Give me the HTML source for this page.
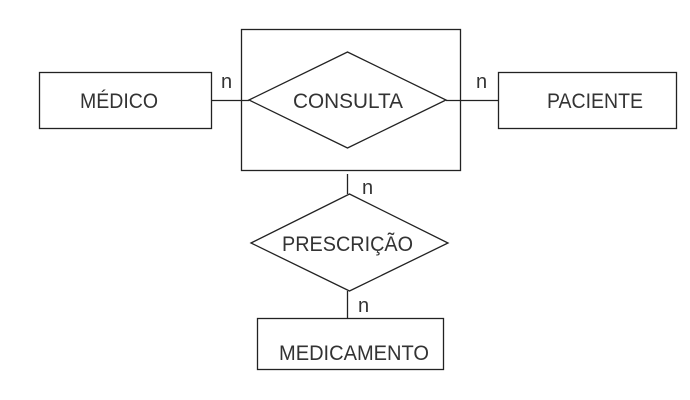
<!DOCTYPE html>
<html><head><meta charset="utf-8"><style>
html,body{margin:0;padding:0;background:#fff;width:690px;height:400px;overflow:hidden}
text{font-family:"Liberation Sans",sans-serif;font-size:21px;fill:#333;stroke:none}
</style></head><body>
<svg width="690" height="400" viewBox="0 0 690 400" xmlns="http://www.w3.org/2000/svg">
<g fill="none" stroke="#222" stroke-width="1.3">
<rect x="39.5" y="72.5" width="172" height="56"/>
<rect x="498.5" y="72.5" width="178" height="56"/>
<rect x="241.5" y="29.5" width="219" height="141"/>
<polygon points="249,100 347.5,52 446,100 347.5,148"/>
<line x1="211" y1="100.5" x2="249" y2="100.5"/>
<line x1="446" y1="100.5" x2="498" y2="100.5"/>
<line x1="347.5" y1="174" x2="347.5" y2="194"/>
<polygon points="251,243 349.5,194 448,243 349.5,291"/>
<line x1="347.5" y1="291" x2="347.5" y2="318"/>
<rect x="257.5" y="318.5" width="186" height="51"/>
</g>
<text x="80" y="108" textLength="78" lengthAdjust="spacingAndGlyphs">MÉDICO</text>
<text x="293" y="108" textLength="110" lengthAdjust="spacingAndGlyphs">CONSULTA</text>
<text x="547" y="108" textLength="96" lengthAdjust="spacingAndGlyphs">PACIENTE</text>
<text x="282" y="251" textLength="131" lengthAdjust="spacingAndGlyphs">PRESCRIÇÃO</text>
<text x="279" y="360" textLength="150" lengthAdjust="spacingAndGlyphs">MEDICAMENTO</text>
<text x="221" y="88" style="font-size:20px">n</text>
<text x="476" y="88" style="font-size:20px">n</text>
<text x="362" y="194" style="font-size:20px">n</text>
<text x="358" y="312" style="font-size:20px">n</text>
</svg>
</body></html>
